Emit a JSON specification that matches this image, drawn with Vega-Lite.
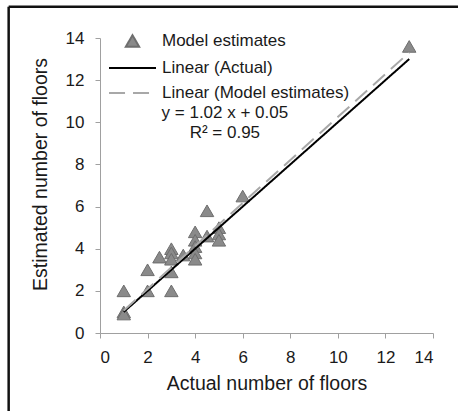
{
  "$schema": "https://vega.github.io/schema/vega-lite/v6.json",
  "width": 333,
  "height": 295,
  "autosize": "none",
  "padding": {"left": 100, "top": 38, "right": 25, "bottom": 78},
  "background": "white",
  "datasets": {
    "points": [
      {"actual": 1, "estimated": 2.0, "series": "Model estimates"},
      {"actual": 1, "estimated": 1.0, "series": "Model estimates"},
      {"actual": 1, "estimated": 0.9, "series": "Model estimates"},
      {"actual": 2, "estimated": 3.0, "series": "Model estimates"},
      {"actual": 2, "estimated": 2.0, "series": "Model estimates"},
      {"actual": 2.5, "estimated": 3.6, "series": "Model estimates"},
      {"actual": 3, "estimated": 4.0, "series": "Model estimates"},
      {"actual": 3, "estimated": 3.8, "series": "Model estimates"},
      {"actual": 3, "estimated": 3.5, "series": "Model estimates"},
      {"actual": 3, "estimated": 2.9, "series": "Model estimates"},
      {"actual": 3, "estimated": 2.0, "series": "Model estimates"},
      {"actual": 3.5, "estimated": 3.7, "series": "Model estimates"},
      {"actual": 4, "estimated": 4.8, "series": "Model estimates"},
      {"actual": 4, "estimated": 4.4, "series": "Model estimates"},
      {"actual": 4, "estimated": 4.1, "series": "Model estimates"},
      {"actual": 4, "estimated": 3.8, "series": "Model estimates"},
      {"actual": 4, "estimated": 3.5, "series": "Model estimates"},
      {"actual": 4.5, "estimated": 5.8, "series": "Model estimates"},
      {"actual": 4.5, "estimated": 4.6, "series": "Model estimates"},
      {"actual": 5, "estimated": 5.0, "series": "Model estimates"},
      {"actual": 5, "estimated": 4.7, "series": "Model estimates"},
      {"actual": 5, "estimated": 4.4, "series": "Model estimates"},
      {"actual": 6, "estimated": 6.5, "series": "Model estimates"},
      {"actual": 13, "estimated": 13.6, "series": "Model estimates"}
    ],
    "trend": [
      {"actual": 1, "estimated": 1.0, "series": "Linear (Actual)"},
      {"actual": 13, "estimated": 13.0, "series": "Linear (Actual)"},
      {"actual": 1, "estimated": 1.07, "series": "Linear (Model estimates)"},
      {"actual": 13, "estimated": 13.31, "series": "Linear (Model estimates)"}
    ],
    "one": [{}]
  },
  "layer": [
    {
      "data": {"name": "one"},
      "mark": {"type": "rule", "stroke": "#111111", "strokeWidth": 2.5},
      "encoding": {
        "x": {"datum": -3.84, "type": "quantitative", "scale": {"domain": [0, 14]}},
        "x2": {"datum": 16},
        "y": {"datum": 15.48, "type": "quantitative", "scale": {"domain": [0, 14]}}
      }
    },
    {
      "data": {"name": "one"},
      "mark": {"type": "rule", "stroke": "#111111", "strokeWidth": 2.5},
      "encoding": {
        "x": {"datum": -3.84, "type": "quantitative", "scale": {"domain": [0, 14]}},
        "y": {"datum": 15.48, "type": "quantitative", "scale": {"domain": [0, 14]}},
        "y2": {"datum": -4.5}
      }
    },
    {
      "data": {"name": "points"},
      "mark": {"type": "point", "filled": true, "opacity": 1, "strokeWidth": 1, "size": 180},
      "encoding": {
        "x": {
          "field": "actual", "type": "quantitative",
          "scale": {"domain": [0, 14], "nice": false, "zero": false},
          "axis": {"values": [0, 2, 4, 6, 8, 10, 12, 14], "title": "Actual number of floors", "titleY": 56.5, "titleBaseline": "alphabetic"}
        },
        "y": {
          "field": "estimated", "type": "quantitative",
          "scale": {"domain": [0, 14], "nice": false, "zero": false},
          "axis": {"values": [0, 2, 4, 6, 8, 10, 12, 14], "title": "Estimated number of floors", "titleX": -53.5, "titleY": 136, "titleAngle": 270, "titleAlign": "center", "titleBaseline": "alphabetic"}
        },
        "fill": {
          "field": "series", "type": "nominal",
          "scale": {"domain": ["Model estimates", "Linear (Actual)", "Linear (Model estimates)"], "range": ["#8a8a8a", "transparent", "transparent"]},
          "legend": {"title": null}
        },
        "stroke": {
          "field": "series", "type": "nominal",
          "scale": {"domain": ["Model estimates", "Linear (Actual)", "Linear (Model estimates)"], "range": ["#6e6e6e", "#000000", "#a8a8a8"]},
          "legend": {"title": null}
        },
        "shape": {
          "field": "series", "type": "nominal",
          "scale": {"domain": ["Model estimates", "Linear (Actual)", "Linear (Model estimates)"], "range": ["triangle-up", "M-3.5,0H3.5", "M-3.5,0H3.5"]},
          "legend": {"title": null}
        }
      }
    },
    {
      "data": {"name": "trend"},
      "mark": {"type": "line", "strokeWidth": 2},
      "encoding": {
        "x": {"field": "actual", "type": "quantitative", "scale": {"domain": [0, 14]}},
        "y": {"field": "estimated", "type": "quantitative", "scale": {"domain": [0, 14]}},
        "stroke": {
          "field": "series", "type": "nominal",
          "scale": {"domain": ["Model estimates", "Linear (Actual)", "Linear (Model estimates)"], "range": ["#6e6e6e", "#000000", "#a8a8a8"]},
          "legend": {"title": null}
        },
        "strokeDash": {
          "field": "series", "type": "nominal",
          "scale": {"domain": ["Model estimates", "Linear (Actual)", "Linear (Model estimates)"], "range": [[1, 0], [1, 0], [16, 8]]},
          "legend": {"title": null}
        }
      }
    },
    {
      "data": {"name": "one"},
      "mark": {"type": "text", "font": "Liberation Sans", "fontSize": 17, "align": "center", "baseline": "alphabetic", "lineHeight": 20.5, "color": "#1a1a1a"},
      "encoding": {
        "x": {"datum": 5.25, "type": "quantitative", "scale": {"domain": [0, 14]}},
        "y": {"datum": 10.21, "type": "quantitative", "scale": {"domain": [0, 14]}},
        "text": {"value": ["y = 1.02 x + 0.05", "R² = 0.95"]}
      }
    }
  ],
  "config": {
    "view": {"stroke": null},
    "axis": {
      "grid": false,
      "domainColor": "#a0a0a0",
      "tickColor": "#a0a0a0",
      "tickSize": 5,
      "labelFont": "Liberation Sans",
      "labelFontSize": 17,
      "labelColor": "#1a1a1a",
      "labelPadding": 11,
      "titleFont": "Liberation Sans",
      "titleFontSize": 19.5,
      "titleFontWeight": "normal",
      "titleColor": "#1a1a1a"
    },
    "legend": {
      "orient": "none",
      "legendX": 24,
      "legendY": -5.5,
      "padding": 0,
      "rowPadding": 7,
      "symbolSize": 180,
      "labelFont": "Liberation Sans",
      "labelFontSize": 17,
      "labelColor": "#1a1a1a",
      "labelOffset": 21,
      "labelLimit": 300,
      "symbolStrokeWidth": 2
    }
  }
}
